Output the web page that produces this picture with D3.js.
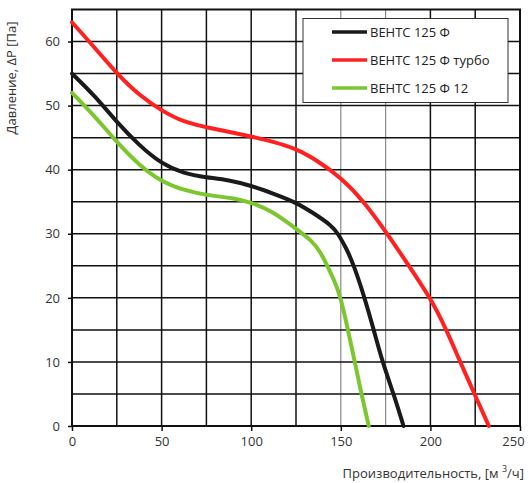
<!DOCTYPE html>
<html>
<head>
<meta charset="utf-8">
<script src="https://cdn.jsdelivr.net/npm/d3@7"></script>
<style>
  body { margin: 0; background: #fff; }
  svg { display: block; font-family: "Open Sans", "Noto Sans", sans-serif; }
</style>
</head>
<body>
<svg id="chart" width="529" height="483"></svg>
<script>
// flow, m3/h  -> pressure, Pa
var seriesNames = ["ВЕНТС 125 Ф", "ВЕНТС 125 Ф турбо", "ВЕНТС 125 Ф 12"];
var seriesColors = ["#1a1a1a", "#ff2020", "#7cc62e"];

var flowBase = [0, 12.5, 25, 37.5, 50, 62.5, 75, 87.5, 100, 112, 125, 134.3, 144.9, 148.5, 153, 157.4, 163.3, 168.4, 173.2, 179.5, 185];
var pressBase = [55, 51.6, 47.4, 43.8, 40.9, 39.4, 38.8, 38.4, 37.5, 36.3, 34.9, 33.3, 31.3, 30, 27.8, 25, 20, 15, 10, 5, 0];

var flowTurbo = [0, 12.5, 25, 37.5, 50, 62.5, 75, 100, 112, 125, 137, 150, 162.5, 176, 188, 200, 209, 216.6, 224.6, 232.6];
var pressTurbo = [63, 59.1, 55, 51.6, 49.2, 47.4, 46.6, 45.2, 44.4, 43.3, 41.4, 38.8, 35.2, 30, 25, 20, 15, 10, 5, 0];

var flow12 = [0, 12.5, 25, 37.5, 50, 62.5, 75, 90, 100, 112, 125, 134, 138.5, 142.5, 146.7, 150, 154, 157.8, 161.5, 165.6];
var press12 = [52, 48.4, 44.3, 40.7, 38.1, 36.8, 36, 35.6, 34.9, 33.5, 30.8, 28.9, 27.2, 25, 22.5, 20, 15, 10, 5, 0];

var xTicks = [0, 50, 100, 150, 200, 250];
var yTicks = [0, 10, 20, 30, 40, 50, 60];
var xGrid = [25, 50, 75, 100, 125, 150, 175, 200, 225];
var xGridLight = [150, 175];
var yGrid = [5, 10, 15, 20, 25, 30, 35, 40, 45, 50, 55, 60];

var series = [
    { name: seriesNames[0], color: seriesColors[0], q: flowBase, p: pressBase },
    { name: seriesNames[1], color: seriesColors[1], q: flowTurbo, p: pressTurbo },
    { name: seriesNames[2], color: seriesColors[2], q: flow12, p: press12 }
];

var svg = d3.select("#chart");
var mLeft = 72, mRight = 520, mTop = 9.5, mBottom = 426;

var x = d3.scaleLinear().domain([0, 250]).range([mLeft, mRight]);
var y = d3.scaleLinear().domain([0, 65]).range([mBottom, mTop]);

// grid
var grid = svg.append("g");
grid.selectAll(".gx")
    .data(xGrid)
    .join("line")
    .attr("x1", d => x(d)).attr("x2", d => x(d))
    .attr("y1", mTop).attr("y2", mBottom)
    .attr("stroke", d => xGridLight.includes(d) ? "#8a8a8a" : "#111")
    .attr("stroke-width", d => xGridLight.includes(d) ? 1.2 : 1.5);

grid.selectAll(".gy")
    .data(yGrid)
    .join("line")
    .attr("x1", mLeft).attr("x2", mRight)
    .attr("y1", d => y(d)).attr("y2", d => y(d))
    .attr("stroke", "#111")
    .attr("stroke-width", 1.5);

// frame
svg.append("rect")
    .attr("x", mLeft).attr("y", mTop)
    .attr("width", mRight - mLeft).attr("height", mBottom - mTop)
    .attr("fill", "none")
    .attr("stroke", "#111")
    .attr("stroke-width", 2);

// axes
var xAxis = svg.append("g")
    .attr("transform", `translate(0,${mBottom})`)
    .call(d3.axisBottom(x).tickValues(xTicks).tickSize(5).tickPadding(6));
var yAxis = svg.append("g")
    .attr("transform", `translate(${mLeft},0)`)
    .call(d3.axisLeft(y).tickValues(yTicks).tickSize(4).tickPadding(8));

[xAxis, yAxis].forEach(a => {
    a.select(".domain").remove();
    a.selectAll(".tick line").attr("stroke", "#111").attr("stroke-width", 1.5);
    a.selectAll(".tick text")
        .attr("fill", "#333")
        .style("font-size", "13px")
        .style("font-family", "'Open Sans', sans-serif");
});
xAxis.selectAll(".tick text").filter(d => d === 250).attr("dx", -7);

// curves
var line = d3.line()
    .x(d => x(d[0]))
    .y(d => y(d[1]))
    .curve(d3.curveBasis);

series.forEach(s => {
    var pts = s.q.map((q, i) => [q, s.p[i]]);
    svg.append("path")
        .datum(pts)
        .attr("fill", "none")
        .attr("stroke", s.color)
        .attr("stroke-width", 4)
        .attr("stroke-linejoin", "round")
        .attr("stroke-linecap", "round")
        .attr("d", line);
});

// legend
var legend = svg.append("g");
legend.append("rect")
    .attr("x", 303).attr("y", 18.5)
    .attr("width", 205).attr("height", 84)
    .attr("fill", "#fff")
    .attr("stroke", "#333")
    .attr("stroke-width", 1);

series.forEach((s, i) => {
    var ly = 32 + i * 28;
    legend.append("line")
        .attr("x1", 332).attr("x2", 367)
        .attr("y1", ly).attr("y2", ly)
        .attr("stroke", s.color)
        .attr("stroke-width", 3.5);
    legend.append("text")
        .attr("x", 370).attr("y", ly)
        .attr("dy", "0.35em")
        .attr("fill", "#222")
        .style("font-size", "13px")
        .text(s.name);
});

// axis titles
var xt = svg.append("text")
    .attr("x", 524).attr("y", 478)
    .attr("text-anchor", "end")
    .attr("fill", "#333")
    .style("font-size", "13px");
xt.append("tspan").text("Производительность, [м ");
xt.append("tspan").attr("dy", -6).style("font-size", "9px").text("3");
xt.append("tspan").attr("dy", 6).text("/ч]");

svg.append("text")
    .attr("transform", "translate(16,78) rotate(-90)")
    .attr("text-anchor", "middle")
    .attr("fill", "#333")
    .style("font-size", "13px")
    .text("Давление, ΔP [Па]");
</script>
</body>
</html>
